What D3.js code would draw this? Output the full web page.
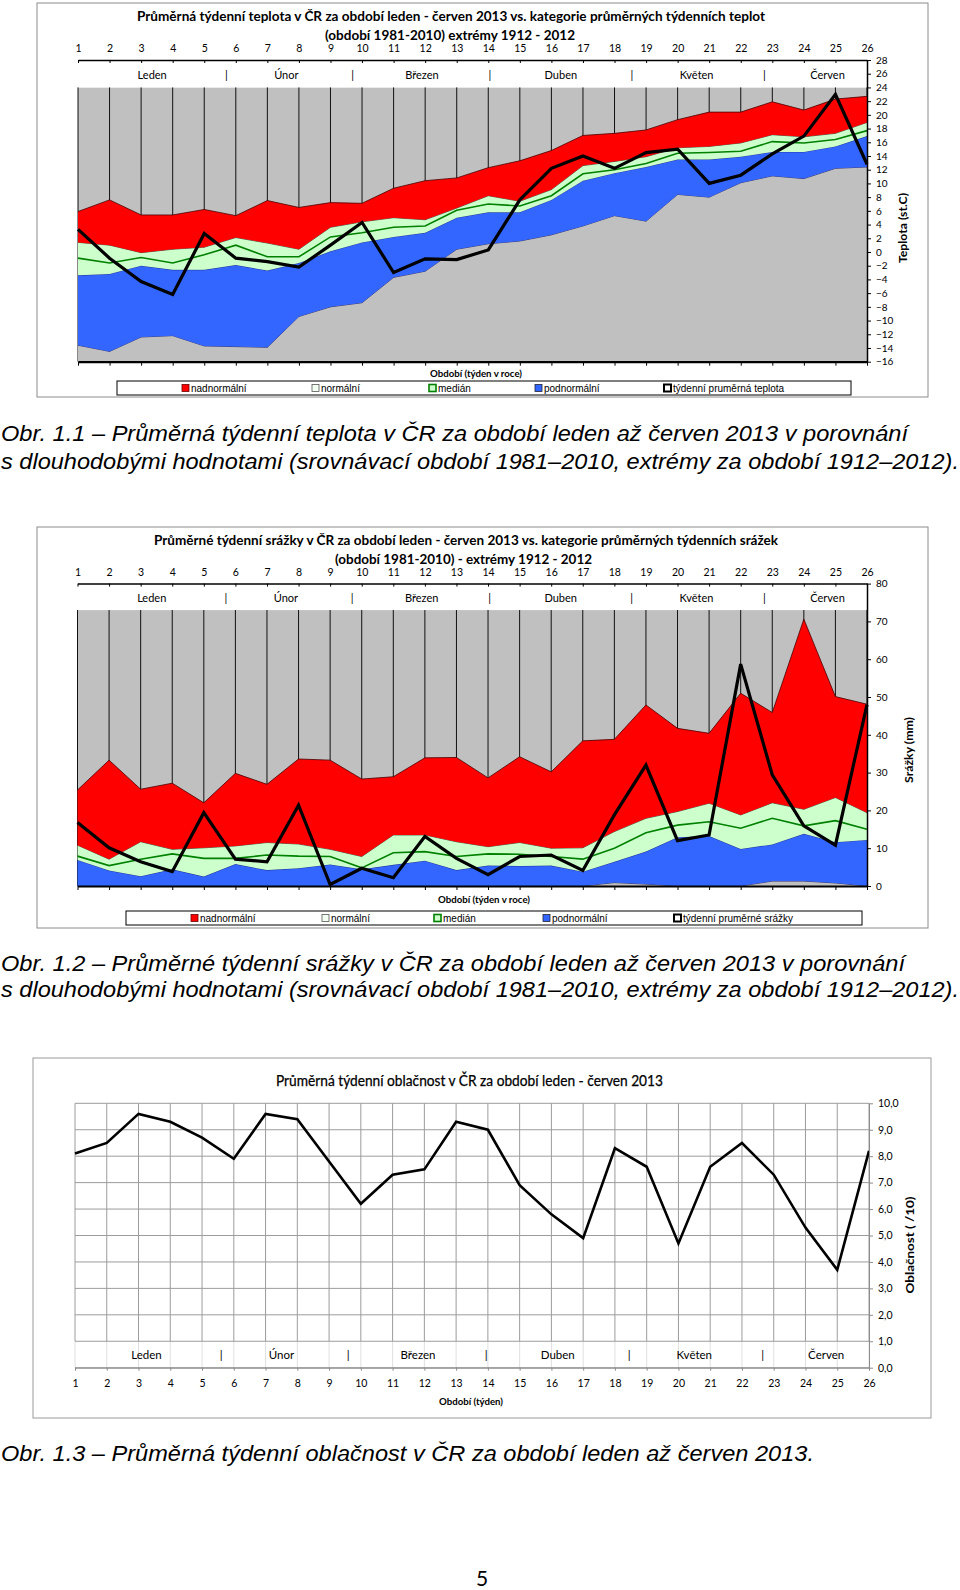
<!DOCTYPE html>
<html>
<head>
<meta charset="utf-8">
<script src="https://cdn.jsdelivr.net/npm/d3@7"></script>
<style>
body { margin: 0; background: #fff; }
svg text { font-family: Lato, "Open Sans", sans-serif; fill: #000; }
svg text.cap { font-family: "Liberation Sans", Arial, sans-serif; font-style: italic; }
.legend text, .xt text { font-family: "Liberation Sans", Arial, sans-serif; }
</style>
</head>
<body>
<svg id="page" width="960" height="1590"></svg>
<script>
// DATA ------------------------------------
const weeks = d3.range(1, 27);
const monthNames = ["Leden", "|", "Únor", "|", "Březen", "|", "Duben", "|", "Květen", "|", "Červen"];
const monthPos = [3.35, 5.7, 7.6, 9.7, 11.9, 14.05, 16.3, 18.55, 20.6, 22.75, 24.75]; // in week units

// teplota (st.C)
const tempMin    = [-13.6,-14.5,-12.4,-12.2,-13.7,-13.8,-13.9,-9.4,-8.0,-7.4,-3.7,-2.8,0.4,1.2,1.6,2.5,3.8,5.3,4.5,8.4,8.0,10.1,11.1,10.7,12.2,12.4];
const tempLow    = [-3.4,-3.2,-2.0,-2.6,-2.6,-1.9,-2.7,-1.6,0.1,1.4,2.2,2.8,5.0,5.8,5.8,7.6,10.4,11.5,12.4,13.5,13.5,13.9,14.6,14.6,15.4,16.9];
const tempMedian = [-0.9,-1.6,-0.8,-1.6,-0.4,1.0,-0.7,-0.7,2.2,2.8,3.6,3.8,6.1,7.0,6.7,8.2,11.4,12.0,12.9,14.4,14.5,14.7,16.1,15.9,16.4,17.7];
const tempHigh   = [1.4,1.0,-0.1,0.4,0.7,2.1,1.3,0.4,3.6,4.4,5.0,4.7,6.4,8.2,7.4,9.1,12.6,13.2,13.9,15.2,15.4,15.9,17.1,16.8,17.3,18.9];
const tempMax    = [5.9,7.6,5.4,5.4,6.2,5.3,7.5,6.5,7.2,7.1,9.3,10.4,10.8,12.3,13.3,14.8,17.0,17.3,17.8,19.3,20.4,20.4,21.9,20.7,22.3,22.7];
const temp2013   = [3.3,-0.9,-4.3,-6.2,2.7,-0.9,-1.4,-2.2,1.0,4.3,-3.0,-1.0,-1.1,0.3,7.6,12.2,14.0,12.2,14.5,15.0,10.0,11.2,14.3,16.9,23.0,12.8];
const tempTicks  = d3.range(-16, 29, 2);

// srazky (mm)
const precMin    = [0,0,0,0,0,0,0,0,0,0,0,0,0,0,0,0,0,0.9,0.5,0,0,0,1.3,1.3,0.8,0];
const precLow    = [6.9,4.1,2.6,4.4,2.5,5.8,4.2,4.7,5.7,4.4,5.6,6.7,4.2,5.4,5.3,5.4,3.8,6.4,9.1,12.9,13.2,9.8,11.0,13.8,11.6,12.2];
const precMedian = [7.9,5.4,7.1,8.5,7.3,7.3,8.2,7.9,7.8,4.8,8.8,9.1,7.8,8.5,8.4,7.8,7.1,10.0,14.1,16.1,17.0,15.3,17.9,15.9,17.3,15.0];
const precHigh   = [10.8,7.1,11.7,9.7,10.1,10.6,11.5,11.1,9.7,7.8,13.5,13.5,11.7,10.4,11.5,10.0,10.1,14.4,17.9,19.7,21.9,18.8,22.0,20.3,23.4,19.4];
const precMax    = [25.4,33.3,25.6,27.2,22.0,29.8,26.9,33.6,33.3,28.3,28.9,33.9,34.0,28.6,34.2,30.2,38.4,38.8,47.9,41.7,40.4,51.0,45.9,70.6,50.1,48.1];
const prec2013   = [16.8,10.1,6.4,3.8,19.4,7.1,6.4,21.4,0.4,4.7,2.2,13.1,7.3,3.0,7.8,8.2,4.1,18.8,32.0,12.0,13.5,58.7,29.4,15.9,10.8,48.0];
const precTicks  = d3.range(0, 81, 10);

// oblacnost (/10)
const cloud2013  = [8.1,8.5,9.6,9.3,8.7,7.9,9.6,9.4,7.8,6.2,7.3,7.5,9.3,9.0,6.9,5.8,4.9,8.3,7.6,4.7,7.6,8.5,7.3,5.3,3.7,8.2];
const cloudTicks = d3.range(0, 11, 1);

const legendTemp = ["nadnormální", "normální", "medián", "podnormální", "týdenní pruměrná teplota"];
const legendPrec = ["nadnormální", "normální", "medián", "podnormální", "týdenní pruměrné srážky"];

const svg = d3.select("#page");

// BAND CHART (teplota, srazky) ------------
function bandChart(c) {
  const g = svg.append("g");
  g.append("rect")
    .attr("x", c.frame[0]).attr("y", c.frame[1])
    .attr("width", c.frame[2]).attr("height", c.frame[3])
    .attr("fill", "#fff").attr("stroke", "#8c8c8c");

  const x = d3.scaleLinear().domain([1, 26]).range(c.xRange);
  const y = d3.scaleLinear().domain(c.yDomain).range(c.yRange);
  const lo = c.yDomain[0], hi = c.yDomain[1];

  // titles
  c.titles.forEach(t => {
    g.append("text")
      .attr("x", t[1]).attr("y", t[2])
      .attr("textLength", t[3]).attr("lengthAdjust", "spacingAndGlyphs")
      .attr("font-size", 14).attr("font-weight", "bold")
      .text(t[0]);
  });

  // plot background + month band
  g.append("rect")
    .attr("x", x(1)).attr("y", y(c.bandBottom))
    .attr("width", x(26) - x(1)).attr("height", y(lo) - y(c.bandBottom))
    .attr("fill", "#c0c0c0");
  g.append("rect")
    .attr("x", x(1)).attr("y", y(hi))
    .attr("width", x(26) - x(1)).attr("height", y(c.bandBottom) - y(hi))
    .attr("fill", "#fff");

  g.selectAll(".vgrid").data(weeks).join("line")
    .attr("class", "vgrid")
    .attr("x1", d => x(d)).attr("x2", d => x(d))
    .attr("y1", y(c.bandBottom)).attr("y2", y(lo))
    .attr("stroke", "#111").attr("stroke-width", 1);

  // stacked bands
  const base = weeks.map(() => lo);
  const layers = [
    [base, c.min, "#c0c0c0", "#20206a"],
    [c.min, c.low, "#3366ff", "#1a237e"],
    [c.low, c.high, "#ccffcc", "#3a4a3a"],
    [c.high, c.max, "#ff0000", "#4a0000"]
  ];
  layers.forEach(l => {
    const area = d3.area()
      .x((d, i) => x(weeks[i]))
      .y0((d, i) => y(l[0][i]))
      .y1((d, i) => y(l[1][i]));
    const edge = d3.line()
      .x((d, i) => x(weeks[i]))
      .y((d, i) => y(l[1][i]));
    g.append("path").datum(weeks).attr("d", area).attr("fill", l[2]);
    g.append("path").datum(weeks).attr("d", edge)
      .attr("fill", "none").attr("stroke", l[3]).attr("stroke-width", 0.8);
  });

  const line = arr => d3.line().x((d, i) => x(weeks[i])).y((d, i) => y(arr[i]));
  g.append("path").datum(weeks).attr("d", line(c.median))
    .attr("fill", "none").attr("stroke", "#008000").attr("stroke-width", 1.6);
  g.append("path").datum(weeks).attr("d", line(c.obs))
    .attr("fill", "none").attr("stroke", "#000").attr("stroke-width", 3.2)
    .attr("stroke-linejoin", "miter");

  // axes
  const top = g.append("g")
    .attr("transform", `translate(0,${y(hi)})`)
    .call(d3.axisTop(x).tickValues(weeks).tickSizeInner(-3).tickSizeOuter(0).tickPadding(8).tickFormat(d3.format("d")));
  top.select(".domain").attr("stroke", "#000").attr("stroke-width", 1.5);
  top.selectAll("text").attr("font-size", 10.5).attr("font-family", "Lato");

  const bottom = g.append("g")
    .attr("transform", `translate(0,${y(lo)})`)
    .call(d3.axisBottom(x).tickValues(weeks).tickSize(4).tickSizeOuter(0).tickFormat(""));
  bottom.select(".domain").attr("stroke", "#000").attr("stroke-width", 2.2);

  const right = g.append("g")
    .attr("transform", `translate(${x(26)},0)`)
    .call(d3.axisRight(y).tickValues(c.ticks).tickSize(4).tickSizeOuter(0).tickPadding(5));
  right.select(".domain").attr("stroke", "#000").attr("stroke-width", 1.5);
  right.selectAll("text").attr("font-size", 10).attr("font-family", "Lato");

  // months
  const bandMid = (y(hi) + y(c.bandBottom)) / 2;
  g.selectAll(".month").data(monthNames).join("text")
    .attr("class", "month")
    .attr("x", (d, i) => x(monthPos[i]))
    .attr("y", bandMid + 5)
    .attr("text-anchor", "middle")
    .attr("font-size", 11)
    .attr("fill", "#222")
    .text(d => d);

  // axis titles
  g.append("text")
    .attr("x", c.xTitle[0]).attr("y", c.xTitle[1])
    .attr("text-anchor", "middle")
    .attr("textLength", c.xTitle[2]).attr("lengthAdjust", "spacingAndGlyphs")
    .attr("font-size", 10).attr("font-weight", "bold")
    .text("Období (týden v roce)");
  g.append("text")
    .attr("transform", `translate(${c.yTitle[0]},${c.yTitle[1]}) rotate(-90)`)
    .attr("text-anchor", "middle")
    .attr("textLength", c.yTitle[2]).attr("lengthAdjust", "spacingAndGlyphs")
    .attr("font-size", 11).attr("font-weight", "bold")
    .text(c.yTitle[3]);

  // legend
  const lg = g.append("g").attr("class", "legend");
  lg.append("rect")
    .attr("x", c.legendBox[0]).attr("y", c.legendBox[1])
    .attr("width", c.legendBox[2]).attr("height", c.legendBox[3])
    .attr("fill", "#fff").attr("stroke", "#000");
  const sym = [
    {fill: "#ff0000", stroke: "#600", w: 0.8},
    {fill: "#f2fff2", stroke: "#555", w: 0.8},
    {fill: "#ccffcc", stroke: "#008000", w: 1.6},
    {fill: "#3366ff", stroke: "#223", w: 0.8},
    {fill: "#fff", stroke: "#000", w: 2}
  ];
  const ly = c.legendBox[1] + c.legendBox[3] / 2;
  c.legend.forEach((t, i) => {
    lg.append("rect")
      .attr("x", c.legendX[i] - 3).attr("y", ly - 3.5)
      .attr("width", 7).attr("height", 7)
      .attr("fill", sym[i].fill).attr("stroke", sym[i].stroke).attr("stroke-width", sym[i].w);
    lg.append("text")
      .attr("x", c.legendX[i] + 6).attr("y", ly + 3.8)
      .attr("font-size", 10).attr("fill", "#222")
      .text(t);
  });
}

bandChart({
  frame: [37, 3, 891, 394],
  xRange: [78, 867],
  yDomain: [-16, 28],
  yRange: [361.7, 60],
  bandBottom: 24,
  ticks: tempTicks,
  titles: [
    ["Průměrná týdenní teplota v ČR za období leden - červen 2013 vs. kategorie průměrných týdenních teplot", 137, 21, 628],
    ["(období 1981-2010) extrémy 1912 - 2012", 325, 40, 250]
  ],
  min: tempMin, low: tempLow, median: tempMedian, high: tempHigh, max: tempMax, obs: temp2013,
  xTitle: [476, 377, 92],
  yTitle: [907, 228, 70, "Teplota (st.C)"],
  legendBox: [117, 381, 734, 14],
  legendX: [185, 315, 432, 538, 667],
  legend: legendTemp
});

bandChart({
  frame: [37, 527, 891, 401],
  xRange: [77.5, 867],
  yDomain: [0, 80],
  yRange: [886, 583.6],
  bandBottom: 73,
  ticks: precTicks,
  titles: [
    ["Průměrné týdenní srážky v ČR za období leden - červen 2013 vs. kategorie průměrných týdenních srážek", 154, 545, 624],
    ["(období 1981-2010) - extrémy 1912 - 2012", 335, 563.5, 257]
  ],
  min: precMin, low: precLow, median: precMedian, high: precHigh, max: precMax, obs: prec2013,
  xTitle: [484, 903, 92],
  yTitle: [913, 750, 66, "Srážky (mm)"],
  legendBox: [126, 911, 736, 14],
  legendX: [194, 325, 437, 546, 677],
  legend: legendPrec
});

// OBLACNOST -------------------------------
(function () {
  const g = svg.append("g");
  g.append("rect")
    .attr("x", 33).attr("y", 1058).attr("width", 898).attr("height", 360)
    .attr("fill", "#fff").attr("stroke", "#9a9a9a");

  const x = d3.scaleLinear().domain([1, 26]).range([75, 869]);
  const y = d3.scaleLinear().domain([0, 10]).range([1367.7, 1103.3]);

  g.append("text")
    .attr("x", 276).attr("y", 1085.5)
    .attr("textLength", 387).attr("lengthAdjust", "spacingAndGlyphs")
    .attr("font-size", 14.5)
    .attr("stroke", "#000").attr("stroke-width", 0.25)
    .text("Průměrná týdenní oblačnost v ČR za období leden - červen 2013");

  // grid
  g.selectAll(".vg").data(weeks).join("line")
    .attr("x1", d => x(d)).attr("x2", d => x(d))
    .attr("y1", y(10)).attr("y2", y(1))
    .attr("stroke", "#9c9c9c").attr("stroke-width", 1);
  g.selectAll(".vg2").data(weeks).join("line")
    .attr("x1", d => x(d)).attr("x2", d => x(d))
    .attr("y1", y(1)).attr("y2", y(0))
    .attr("stroke", "#e0e0e0").attr("stroke-width", 1);
  g.selectAll(".hg").data(cloudTicks).join("line")
    .attr("x1", x(1)).attr("x2", x(26))
    .attr("y1", d => y(d)).attr("y2", d => y(d))
    .attr("stroke", "#9c9c9c").attr("stroke-width", 1);

  // months
  g.selectAll(".month").data(monthNames).join("text")
    .attr("x", (d, i) => x(monthPos[i] - 0.1))
    .attr("y", (y(1) + y(0)) / 2 + 5)
    .attr("text-anchor", "middle")
    .attr("font-size", 11.5)
    .attr("fill", "#222")
    .text(d => d);

  const line = d3.line().x((d, i) => x(weeks[i])).y(d => y(d));
  g.append("path").datum(cloud2013).attr("d", line)
    .attr("fill", "none").attr("stroke", "#000").attr("stroke-width", 2.6);

  const bottom = g.append("g")
    .attr("transform", `translate(0,${y(0)})`)
    .call(d3.axisBottom(x).tickValues(weeks).tickSize(3).tickSizeOuter(0).tickPadding(9).tickFormat(d3.format("d")));
  bottom.select(".domain").attr("stroke", "#8c8c8c");
  bottom.selectAll("line").attr("stroke", "#8c8c8c");
  bottom.selectAll("text").attr("font-size", 10.5);

  const right = g.append("g")
    .attr("transform", `translate(${x(26)},0)`)
    .call(d3.axisRight(y).tickValues(cloudTicks).tickSize(4).tickSizeOuter(0).tickPadding(5)
      .tickFormat(d => d3.format(".1f")(d).replace(".", ",")));
  right.select(".domain").attr("stroke", "#8c8c8c");
  right.selectAll("line").attr("stroke", "#8c8c8c");
  right.selectAll("text").attr("font-size", 10.5);

  g.append("text")
    .attr("x", 471).attr("y", 1405)
    .attr("text-anchor", "middle")
    .attr("textLength", 64).attr("lengthAdjust", "spacingAndGlyphs")
    .attr("font-size", 10).attr("font-weight", "bold")
    .text("Období (týden)");
  g.append("text")
    .attr("transform", "translate(914,1245) rotate(-90)")
    .attr("text-anchor", "middle")
    .attr("textLength", 97).attr("lengthAdjust", "spacingAndGlyphs")
    .attr("font-size", 11.5).attr("font-weight", "bold")
    .text("Oblačnost ( /10)");
})();

// CAPTIONS --------------------------------
const captions = [
  ["Obr. 1.1 – Průměrná týdenní teplota v ČR za období leden až červen 2013 v porovnání", 441, 907],
  ["s dlouhodobými hodnotami (srovnávací období 1981–2010, extrémy za období 1912–2012).", 469, 958],
  ["Obr. 1.2 – Průměrné týdenní srážky v ČR za období leden až červen 2013 v porovnání", 971, 904],
  ["s dlouhodobými hodnotami (srovnávací období 1981–2010, extrémy za období 1912–2012).", 997, 958],
  ["Obr. 1.3 – Průměrná týdenní oblačnost v ČR za období leden až červen 2013.", 1461, 813]
];
svg.selectAll(".cap").data(captions).join("text")
  .attr("class", "cap")
  .attr("x", 1).attr("y", d => d[1])
  .attr("textLength", d => d[2]).attr("lengthAdjust", "spacingAndGlyphs")
  .attr("font-size", 22)
  .text(d => d[0]);

svg.append("text")
  .attr("x", 482).attr("y", 1586)
  .attr("text-anchor", "middle")
  .attr("font-family", "Liberation Sans, Arial, sans-serif")
  .attr("font-size", 21)
  .text("5");
</script>
</body>
</html>
